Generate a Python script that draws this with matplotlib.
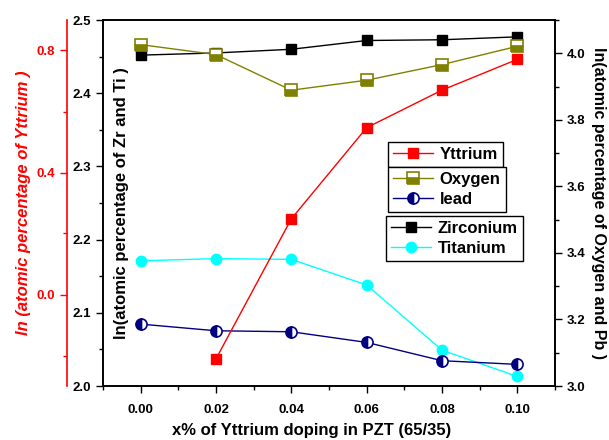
import matplotlib
matplotlib.use("Agg")
import matplotlib.pyplot as plt
from matplotlib.ticker import MultipleLocator, FormatStrFormatter

plt.rcParams['font.family'] = ['Liberation Sans', 'DejaVu Sans']
plt.rcParams['font.weight'] = 'bold'

x = [0.00, 0.02, 0.04, 0.06, 0.08, 0.10]
x_y = [0.02, 0.04, 0.06, 0.08, 0.10]
yttrium = [-0.211, 0.248, 0.547, 0.670, 0.771]
zirconium = [2.452, 2.455, 2.460, 2.472, 2.473, 2.477]
titanium = [2.171, 2.174, 2.173, 2.138, 2.049, 2.013]
oxygen = [4.026, 3.996, 3.889, 3.919, 3.966, 4.021]
lead = [3.186, 3.166, 3.163, 3.131, 3.076, 3.065]

W, H = 609, 440
fig = plt.figure(figsize=(W/100, H/100), dpi=100)
L, R, T, B = 103, 555, 20, 386
ax = fig.add_axes([L/W, 1-B/H, (R-L)/W, (B-T)/H])
ax2 = ax.twinx()
ax3 = ax.twinx()

ax.set_xlim(-0.01, 0.11)
ax.set_ylim(2.0, 2.5)
ax2.set_ylim(3.0, 4.1)
ax3.set_ylim(-0.3, 0.9)

# Red axis on the left, offset
ax3.spines['left'].set_position(('axes', (67-L)/(R-L)))
ax3.spines['left'].set_visible(True)
ax3.spines['left'].set_color('red')
ax3.spines['left'].set_linewidth(1.2)
ax3.spines['right'].set_visible(False)
ax3.spines['top'].set_visible(False)
ax3.spines['bottom'].set_visible(False)
ax3.yaxis.set_ticks_position('left')
ax3.yaxis.set_label_position('left')
ax3.yaxis.set_major_locator(MultipleLocator(0.4))
ax3.yaxis.set_minor_locator(MultipleLocator(0.2))
ax3.yaxis.set_major_formatter(FormatStrFormatter('%.1f'))
ax3.tick_params(axis='y', which='both', colors='red', direction='out')
ax3.tick_params(axis='y', which='major', length=5, width=1, labelsize=9.5)
ax3.tick_params(axis='y', which='minor', length=3, width=1)
for t in ax3.get_yticklabels():
    t.set_fontweight('bold')
ax3.set_ylabel('ln (atomic percentage of Yttrium )', color='red', fontsize=12,
               fontweight='bold', fontstyle='italic')
ax3.yaxis.set_label_coords((31-L)/(R-L), 0.5)

# Inner left axis
ax.xaxis.set_major_locator(MultipleLocator(0.02))
ax.xaxis.set_minor_locator(MultipleLocator(0.01))
ax.xaxis.set_major_formatter(FormatStrFormatter('%.2f'))
ax.yaxis.set_major_locator(MultipleLocator(0.1))
ax.yaxis.set_minor_locator(MultipleLocator(0.05))
ax.yaxis.set_major_formatter(FormatStrFormatter('%.1f'))
ax.tick_params(axis='both', which='major', direction='out', length=5, width=1, labelsize=9.5)
ax.tick_params(axis='both', which='minor', direction='out', length=3, width=1)
ax.tick_params(axis='x', pad=8)
for t in ax.get_xticklabels() + ax.get_yticklabels():
    t.set_fontweight('bold')
ax.set_ylabel('ln(atomic percentage of Zr and Ti )', fontsize=12, fontweight='bold')
ax.yaxis.set_label_coords((129-L)/(R-L), 0.5)
ax.set_xlabel('x% of Yttrium doping in PZT (65/35)', fontsize=12, fontweight='bold')
ax.xaxis.set_label_coords((312-L)/(R-L), -(423-B)/(B-T))

# Right axis
ax2.yaxis.set_major_locator(MultipleLocator(0.2))
ax2.yaxis.set_minor_locator(MultipleLocator(0.1))
ax2.yaxis.set_major_formatter(FormatStrFormatter('%.1f'))
ax2.tick_params(axis='y', which='major', direction='out', length=5, width=1, labelsize=9.5)
ax2.tick_params(axis='y', which='minor', direction='out', length=3, width=1)
for t in ax2.get_yticklabels():
    t.set_fontweight('bold')
ax2.set_ylabel('ln(atomic percentage of Oxygen and Pb )', fontsize=11.5,
               fontweight='bold', rotation=270)
ax2.yaxis.set_label_coords((606-L)/(R-L), 0.5)

for a in (ax, ax2):
    for s in a.spines.values():
        s.set_linewidth(1.2)

# Data
lz, = ax.plot(x, zirconium, color='black', lw=1, marker='s', ms=7, mfc='black', mec='black', label='Zirconium')
lt, = ax.plot(x, titanium, color='cyan', lw=1, marker='o', ms=7.5, mfc='cyan', mec='cyan', label='Titanium')
lo, = ax2.plot(x, oxygen, color='olive', lw=1, marker='s', ms=8, fillstyle='bottom',
               mfc='olive', mfcalt='white', mec='olive', mew=1.2, label='Oxygen')
lp, = ax2.plot(x, lead, color='navy', lw=1, marker='o', ms=8, fillstyle='left',
               mfc='navy', mfcalt='white', mec='navy', mew=1.2, label='lead')
ly, = ax3.plot(x_y, yttrium, color='red', lw=1, marker='s', ms=7, mfc='red', mec='red', label='Yttrium')

def fig_anchor(px, py):
    return (px / W, 1 - py / H)

common = dict(frameon=True, fancybox=False, framealpha=1, edgecolor='black',
              prop={'weight': 'bold', 'size': 12}, handlelength=2.4, borderpad=0.3,
              labelspacing=0.3, handletextpad=0.4, borderaxespad=0,
              bbox_transform=fig.transFigure, loc='upper left')
leg1 = ax3.legend(handles=[ly], bbox_to_anchor=fig_anchor(388, 142), **common)
ax3.add_artist(leg1)
leg2 = ax3.legend(handles=[lo, lp], bbox_to_anchor=fig_anchor(388, 167), **common)
ax3.add_artist(leg2)
leg3 = ax3.legend(handles=[lz, lt], bbox_to_anchor=fig_anchor(386, 216), **common)
for lg in (leg1, leg2, leg3):
    lg.get_frame().set_linewidth(1)

fig.savefig('out.png', dpi=100)
